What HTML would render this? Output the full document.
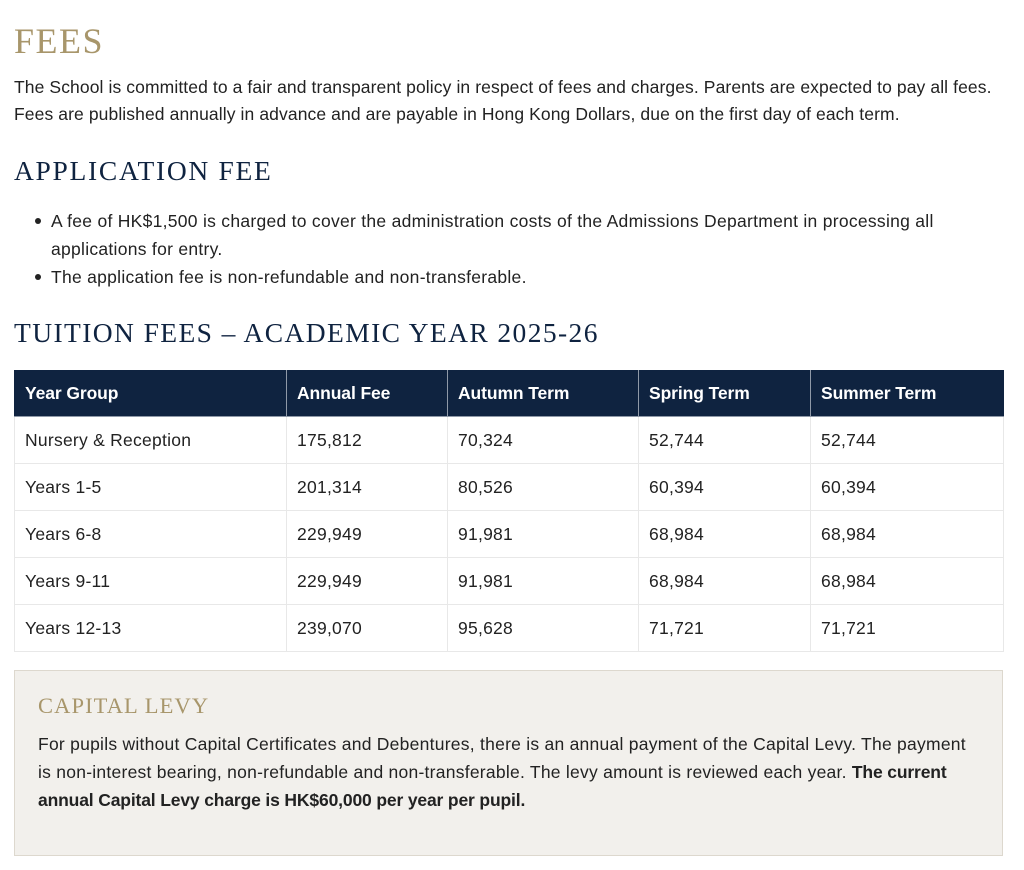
<!DOCTYPE html>
<html>
<head>
<meta charset="utf-8">
<style>
  html,body{margin:0;padding:0;background:#fff;}
  body{width:1024px;height:870px;position:relative;overflow:hidden;font-family:"Liberation Sans",sans-serif;color:#222;}
  .abs{position:absolute;white-space:nowrap;}
  .serif{font-family:"Liberation Serif",serif;}
  .h1{left:14px;top:19px;font-size:36px;line-height:44px;color:#a8966b;letter-spacing:1.5px;}
  .p{font-size:17.5px;line-height:27px;color:#222;}
  .h2{font-size:27.5px;line-height:34px;color:#0f2340;}
  .bul{font-size:17.5px;line-height:28px;letter-spacing:0.28px;}
  .dot{position:absolute;width:6px;height:6px;border-radius:50%;background:#222;}
  table{position:absolute;left:14px;top:370px;border-collapse:collapse;font-size:17.5px;}
  th{background:#0f2340;color:#fff;text-align:left;font-weight:bold;height:46px;padding:0 0 0 10px;border:1px solid #8f99a8;border-top:none;letter-spacing:-0.1px;}
  td{height:46px;padding:0 0 0 10px;border:1px solid #e8e8e8;color:#222;letter-spacing:0.25px;}
  .box{position:absolute;left:14px;top:670px;width:987px;height:184px;background:#f2f0ec;border:1px solid #ddd8ce;}
  b{letter-spacing:-0.15px;}
</style>
</head>
<body>
<div class="abs serif h1">FEES</div>
<div class="abs p" style="left:14px;top:74px;letter-spacing:0.1px;">The School is committed to a fair and transparent policy in respect of fees and charges. Parents are expected to pay all fees.<br>Fees are published annually in advance and are payable in Hong Kong Dollars, due on the first day of each term.</div>

<div class="abs serif h2" style="left:14px;top:154px;letter-spacing:1.7px;">APPLICATION FEE</div>

<div class="dot" style="left:35px;top:218px;"></div>
<div class="abs bul" style="left:51px;top:207px;">A fee of HK$1,500 is charged to cover the administration costs of the Admissions Department in processing all<br>applications for entry.</div>
<div class="dot" style="left:35px;top:274px;"></div>
<div class="abs bul" style="left:51px;top:263px;">The application fee is non-refundable and non-transferable.</div>

<div class="abs serif h2" style="left:14px;top:316px;letter-spacing:1.4px;">TUITION FEES – ACADEMIC YEAR 2025-26</div>

<table>
  <colgroup><col style="width:272px"><col style="width:161px"><col style="width:191px"><col style="width:172px"><col style="width:193px"></colgroup>
  <tr><th style="border-left:1px solid #0f2340">Year Group</th><th>Annual Fee</th><th>Autumn Term</th><th>Spring Term</th><th style="border-right:1px solid #0f2340">Summer Term</th></tr>
  <tr><td>Nursery &amp; Reception</td><td>175,812</td><td>70,324</td><td>52,744</td><td>52,744</td></tr>
  <tr><td>Years 1-5</td><td>201,314</td><td>80,526</td><td>60,394</td><td>60,394</td></tr>
  <tr><td>Years 6-8</td><td>229,949</td><td>91,981</td><td>68,984</td><td>68,984</td></tr>
  <tr><td>Years 9-11</td><td>229,949</td><td>91,981</td><td>68,984</td><td>68,984</td></tr>
  <tr><td>Years 12-13</td><td>239,070</td><td>95,628</td><td>71,721</td><td>71,721</td></tr>
</table>

<div class="box"></div>
<div class="abs serif" style="left:38px;top:692px;font-size:22.5px;line-height:28px;color:#a8966b;letter-spacing:1.1px;">CAPITAL LEVY</div>
<div class="abs p" style="left:38px;top:730px;line-height:28px;letter-spacing:0.25px;">For pupils without Capital Certificates and Debentures, there is an annual payment of the Capital Levy. The payment<br>is non-interest bearing, non-refundable and non-transferable. The levy amount is reviewed each year. <b>The current</b><br><b>annual Capital Levy charge is HK$60,000 per year per pupil.</b></div>
</body>
</html>
